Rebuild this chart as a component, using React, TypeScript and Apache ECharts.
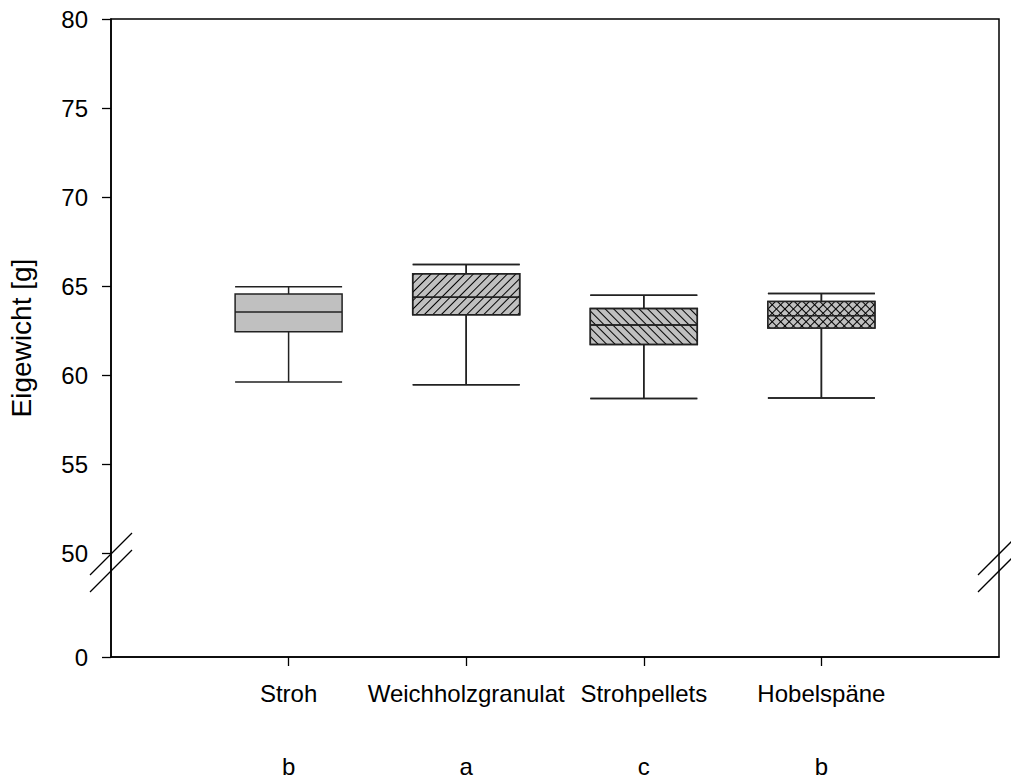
import React, { useEffect, useRef } from "react";
import * as echarts from "echarts";

const categories = ["", "Stroh", "Weichholzgranulat", "Strohpellets", "Hobelspäne", ""];
const letters = ["", "b", "a", "c", "b", ""];
const mins = [59.61, 59.46, 58.69, 58.72];
const q1s = [62.43, 63.39, 61.72, 62.64];
const medians = [63.54, 64.38, 62.81, 63.33];
const q3s = [64.55, 65.69, 63.74, 64.13];
const maxs = [64.96, 66.21, 64.49, 64.58];
const yTicks = [50, 55, 60, 65, 70, 75, 80];
// the broken axis: value 0 is drawn at this display position below 50
const ZERO_POS = 44.17;

const FONT = "Liberation Sans, Arial, sans-serif";
const FILL = "#c0c0c0";

const decals: any[] = [
  null,
  { symbol: "rect", symbolSize: 1, color: "#000", dashArrayX: [1, 0], dashArrayY: [1, 5], rotation: -Math.PI / 4 },
  { symbol: "rect", symbolSize: 1, color: "#000", dashArrayX: [1, 0], dashArrayY: [1, 5], rotation: Math.PI / 4 },
  { symbol: "rect", symbolSize: 1, color: FILL, dashArrayX: [5, 1], dashArrayY: [5, 1], rotation: Math.PI / 4 },
];

export default function App() {
  const ref = useRef<HTMLDivElement>(null);
  useEffect(() => {
    if (!ref.current) return;
    const chart = echarts.init(ref.current, null, { renderer: "svg" });
    const boxData: any[] = ["-"];
    for (let i = 0; i < mins.length; i++) {
      const item: any = { value: [mins[i], q1s[i], medians[i], q3s[i], maxs[i]] };
      if (i === 3) {
        item.itemStyle = { color: "#000", decal: decals[i] };
      } else if (decals[i]) {
        item.itemStyle = { color: FILL, decal: decals[i] };
      } else {
        item.itemStyle = { color: FILL };
      }
      boxData.push(item);
    }
    const tickVals = [ZERO_POS, ...yTicks];
    const lineStyle = { stroke: "#000", lineWidth: 1.3 };
    chart.setOption({
      animation: false,
      aria: { enabled: false, decal: { show: true } },
      textStyle: { fontFamily: FONT },
      grid: {
        left: 111,
        right: 12,
        top: 19,
        bottom: 126,
        containLabel: false,
        outerBoundsMode: "none",
        show: true,
        borderColor: "#000",
        borderWidth: 1.5,
        backgroundColor: "transparent",
      },
      xAxis: [
        {
          type: "category",
          data: categories,
          boundaryGap: false,
          axisLine: { lineStyle: { color: "#000", width: 1.5 } },
          axisTick: {
            length: 9,
            interval: (idx: number) => idx >= 1 && idx <= 4,
            lineStyle: { color: "#000", width: 1.3 },
          },
          axisLabel: { interval: 0, margin: 24, color: "#000", fontSize: 24, fontFamily: FONT },
          splitLine: { show: false },
        },
        {
          type: "category",
          data: categories,
          boundaryGap: false,
          position: "bottom",
          offset: 73,
          axisLine: { show: false },
          axisTick: { show: false },
          axisLabel: {
            interval: 0,
            margin: 24,
            color: "#000",
            fontSize: 24,
            fontFamily: FONT,
            formatter: (_v: string, idx: number) => letters[idx],
          },
          splitLine: { show: false },
        },
      ],
      yAxis: {
        type: "value",
        min: ZERO_POS,
        max: 80,
        name: "Eigewicht [g]",
        nameLocation: "middle",
        nameGap: 76,
        nameTextStyle: { fontSize: 28, color: "#000", fontFamily: FONT },
        axisLine: { show: true, lineStyle: { color: "#000", width: 1.5 } },
        axisTick: { show: true, length: 9, customValues: tickVals, lineStyle: { color: "#000", width: 1.3 } },
        axisLabel: {
          margin: 23,
          color: "#000",
          fontSize: 24,
          fontFamily: FONT,
          customValues: tickVals,
          formatter: (v: number) => (Math.abs(v - ZERO_POS) < 1e-6 ? "0" : String(Math.round(v))),
        },
        splitLine: { show: false },
      },
      series: [
        {
          type: "boxplot",
          xAxisIndex: 0,
          boxWidth: [107, 107],
          data: boxData,
          itemStyle: { color: FILL, borderColor: "#222", borderWidth: 1.5 },
        },
      ],
      graphic: [
        { type: "line", silent: true, shape: { x1: 90, y1: 575, x2: 132, y2: 533 }, style: lineStyle },
        { type: "line", silent: true, shape: { x1: 90, y1: 592, x2: 132, y2: 550 }, style: lineStyle },
        { type: "line", silent: true, shape: { x1: 978, y1: 575, x2: 1020, y2: 533 }, style: lineStyle },
        { type: "line", silent: true, shape: { x1: 978, y1: 592, x2: 1020, y2: 550 }, style: lineStyle },
      ],
    });
    return () => chart.dispose();
  }, []);
  return (
    <div
      ref={ref}
      style={{ position: "fixed", left: 0, top: 0, width: 1011, height: 783, background: "#fff" }}
    />
  );
}
